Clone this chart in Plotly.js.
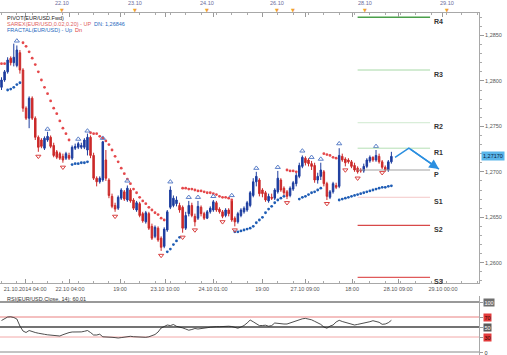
<!DOCTYPE html>
<html><head><meta charset="utf-8">
<script src="https://cdn.plot.ly/plotly-3.0.1.min.js"></script>
<style>html,body{margin:0;padding:0;background:#fff}#chart{width:507px;height:355px}</style>
</head><body><div id="chart"></div>
<script>
// ---- DATA ----
const opens = [1.2793,1.2801,1.2810,1.2825,1.2820,1.2817,1.2831,1.2812,1.2770,1.2759,
1.2781,1.2759,1.2738,1.2735,1.2726,1.2735,1.2738,1.2729,1.2722,1.2720,
1.2717,1.2715,1.2718,1.2715,1.2726,1.2727,1.2727,1.2727,1.2724,1.2738,
1.2718,1.2693,1.2689,1.2691,1.2713,1.2691,1.2673,1.2663,1.2660,1.2671,
1.2678,1.2669,1.2680,1.2669,1.2658,1.2665,1.2654,1.2645,1.2654,1.2640,
1.2629,1.2638,1.2627,1.2618,1.2636,1.2661,1.2663,1.2665,1.2663,1.2661,
1.2638,1.2654,1.2663,1.2651,1.2649,1.2661,1.2654,1.2649,1.2656,1.2658,
1.2666,1.2659,1.2656,1.2652,1.2658,1.2668,1.2649,1.2645,1.2652,1.2656,
1.2658,1.2663,1.2674,1.2689,1.2691,1.2680,1.2677,1.2668,1.2672,1.2671,
1.2678,1.2691,1.2682,1.2678,1.2674,1.2681,1.2687,1.2695,1.2706,1.2715,
1.2713,1.2709,1.2707,1.2691,1.2695,1.2700,1.2687,1.2672,1.2678,1.2685,
1.2684,1.2717,1.2714,1.2713,1.2711,1.2707,1.2704,1.2702,1.2701,1.2706,
1.2712,1.2716,1.2713,1.2717,1.2711,1.2705,1.2702,1.2711];
const highs = [1.2804,1.2812,1.2826,1.2827,1.2841,1.2839,1.2834,1.2814,1.2772,1.2783,
1.2783,1.2761,1.2740,1.2737,1.2739,1.2744,1.2740,1.2732,1.2724,1.2722,
1.2720,1.2722,1.2721,1.2729,1.2731,1.2733,1.2732,1.2737,1.2742,1.2740,
1.2721,1.2695,1.2695,1.2734,1.2724,1.2693,1.2676,1.2666,1.2674,1.2682,
1.2680,1.2685,1.2682,1.2671,1.2668,1.2667,1.2656,1.2657,1.2656,1.2643,
1.2641,1.2640,1.2629,1.2639,1.2658,1.2684,1.2674,1.2673,1.2666,1.2663,
1.2656,1.2668,1.2666,1.2654,1.2668,1.2663,1.2656,1.2658,1.2662,1.2669,
1.2668,1.2661,1.2658,1.2660,1.2660,1.2670,1.2651,1.2656,1.2660,1.2662,
1.2668,1.2679,1.2693,1.2700,1.2693,1.2682,1.2679,1.2676,1.2676,1.2682,
1.2701,1.2693,1.2684,1.2680,1.2684,1.2690,1.2699,1.2710,1.2718,1.2717,
1.2715,1.2712,1.2710,1.2699,1.2710,1.2702,1.2689,1.2680,1.2689,1.2688,
1.2726,1.2720,1.2716,1.2715,1.2713,1.2710,1.2706,1.2704,1.2709,1.2715,
1.2718,1.2717,1.2724,1.2720,1.2713,1.2707,1.2713,1.2722];
const lows = [1.2790,1.2799,1.2808,1.2817,1.2816,1.2815,1.2808,1.2766,1.2757,1.2748,
1.2757,1.2735,1.2722,1.2726,1.2724,1.2733,1.2726,1.2716,1.2714,1.2713,
1.2710,1.2713,1.2713,1.2713,1.2724,1.2725,1.2725,1.2725,1.2718,1.2715,
1.2691,1.2684,1.2687,1.2689,1.2690,1.2671,1.2660,1.2656,1.2658,1.2669,
1.2668,1.2667,1.2666,1.2658,1.2656,1.2650,1.2644,1.2643,1.2636,1.2625,
1.2627,1.2623,1.2613,1.2616,1.2634,1.2659,1.2661,1.2662,1.2655,1.2633,
1.2636,1.2651,1.2650,1.2640,1.2647,1.2651,1.2647,1.2648,1.2654,1.2656,
1.2656,1.2654,1.2649,1.2650,1.2651,1.2645,1.2640,1.2643,1.2650,1.2654,
1.2656,1.2661,1.2672,1.2684,1.2673,1.2672,1.2667,1.2666,1.2669,1.2669,
1.2676,1.2678,1.2674,1.2670,1.2672,1.2679,1.2684,1.2693,1.2704,1.2707,
1.2706,1.2702,1.2688,1.2687,1.2691,1.2684,1.2669,1.2670,1.2676,1.2681,
1.2682,1.2711,1.2706,1.2709,1.2704,1.2700,1.2698,1.2699,1.2699,1.2704,
1.2710,1.2711,1.2711,1.2709,1.2703,1.2700,1.2700,1.2709];
const closes = [1.2801,1.2810,1.2823,1.2820,1.2826,1.2834,1.2812,1.2770,1.2759,1.2781,
1.2759,1.2738,1.2727,1.2728,1.2737,1.2739,1.2728,1.2718,1.2716,1.2715,
1.2713,1.2720,1.2715,1.2727,1.2728,1.2731,1.2729,1.2735,1.2738,1.2718,
1.2693,1.2689,1.2693,1.2733,1.2693,1.2674,1.2662,1.2659,1.2672,1.2680,
1.2670,1.2682,1.2668,1.2660,1.2666,1.2652,1.2646,1.2655,1.2638,1.2627,
1.2639,1.2625,1.2617,1.2637,1.2656,1.2680,1.2671,1.2669,1.2658,1.2638,
1.2652,1.2663,1.2652,1.2645,1.2662,1.2654,1.2649,1.2656,1.2660,1.2667,
1.2658,1.2656,1.2651,1.2658,1.2654,1.2647,1.2645,1.2654,1.2658,1.2660,
1.2666,1.2677,1.2689,1.2695,1.2676,1.2676,1.2669,1.2673,1.2671,1.2680,
1.2693,1.2680,1.2677,1.2673,1.2682,1.2688,1.2696,1.2707,1.2716,1.2710,
1.2709,1.2706,1.2691,1.2695,1.2702,1.2687,1.2673,1.2678,1.2687,1.2683,
1.2718,1.2713,1.2710,1.2711,1.2706,1.2702,1.2700,1.2701,1.2706,1.2713,
1.2716,1.2713,1.2718,1.2711,1.2705,1.2702,1.2711,1.2717];

// Parabolic SAR (above price = red, below price = blue)
const sarDnX = [0,1, 7,8,9,10,11,12,13,14,15,16,17,18,19,20,21,22,
 29,30,31,32,33,34,35,36,37,38,39,40,41,42,43,44,45,46,47,48,49,50,51,52,53,
 59,60,61,62,63,64,65,66,67,68,69,70,71,72,73,74,75, 93,94,95,96, 105,106,107,108,109];
const sarDnY = [1.2819,1.2819, 1.2842,1.2838,1.2832,1.2825,1.2818,1.2810,1.2801,1.2793,1.2786,1.2778,1.2770,1.2764,1.2756,1.2748,1.2742,1.2735,
 1.2743,1.2742,1.2742,1.2739,1.2737,1.2734,1.2730,1.2724,1.2717,1.2711,1.2704,1.2698,1.2692,1.2687,1.2681,1.2677,1.2672,1.2668,1.2665,1.2661,1.2658,1.2655,1.2653,1.2649,1.2647,
 1.2682,1.2682,1.2681,1.2681,1.2680,1.2679,1.2679,1.2678,1.2677,1.2677,1.2676,1.2675,1.2673,1.2672,1.2672,1.2671,1.2669,
 1.2702,1.2701,1.2701,1.2700, 1.2720,1.2719,1.2718,1.2716,1.2715];
const sarUpX = [2,3,4,5,6, 23,24,25,26,27,28, 54,55,56,57,58,
 76,77,78,79,80,81,82,83,84,85,86,87,88,89,90,91,92, 97,98,99,100,101,102,103,104,
 110,111,112,113,114,115,116,117,118,119,120,121,122,123,124,125,126,127];
const sarUpY = [1.2790,1.2791,1.2793,1.2796,1.2798, 1.2708,1.2709,1.2709,1.2710,1.2710,1.2711,
 1.2612,1.2615,1.2620,1.2624,1.2628,
 1.2634,1.2634,1.2635,1.2636,1.2637,1.2638,1.2640,1.2644,1.2647,1.2650,1.2655,1.2659,1.2662,1.2666,1.2669,1.2671,1.2673,
 1.2670,1.2672,1.2673,1.2675,1.2677,1.2678,1.2680,1.2682,
 1.2669,1.2670,1.2671,1.2672,1.2673,1.2674,1.2675,1.2676,1.2677,1.2678,1.2679,1.2680,1.2681,1.2682,1.2683,1.2683,1.2684,1.26846];

// Fractals
const fracUpX = [5,15,25,28,33,41,55,61,64,69,75,83,90,98,101,104,110,122];
const fracUpY = [1.2844,1.2747,1.2736,1.2745,1.2737,1.2690,1.2689,1.2672,1.2672,1.2673,1.2674,1.2704,1.2705,1.2723,1.2716,1.2714,1.2731,1.2728];
const fracDnX = [12,20,37,52,59,63,72,76,93,106,112,116,124];
const fracDnY = [1.2717,1.2705,1.2651,1.2608,1.2628,1.2636,1.2645,1.2636,1.2666,1.2665,1.2702,1.2693,1.2699];

// Pivot levels
const pivotNames = ['R4','R3','R2','R1','P','S1','S2','S3'];
const pivotLevels = [1.2870,1.2812,1.2754,1.2726,1.2702,1.2672,1.2641,1.2584];
const pivotFrom = 116, pivotTo = 139.6;

// Forecast arrow
const fcX = [128.2,132.7,142.5];
const fcY = [1.2716,1.2726,1.2703];

// RSI(14)
const rsi = [63,67.4,70,70.4,69,66,52,42,39,43,
40.6,39,37.6,36,35.4,34.4,34,33.2,32.6,32,
34.6,37.2,38.8,40,39.6,39.6,40.2,41.4,43,39,
34,34,35.6,30.4,29.6,29.4,29.4,28.8,28,28.8,
29.6,31.2,31.4,30.6,30,29.4,29.4,29.4,30.4,32,
35,40,48,51,54,52.8,55,51.4,49,48.2,
46,43.6,45,47,46,46.4,48,48.6,49.6,50.6,
50.6,50.6,51.4,52.2,51.6,51,49.4,47.6,50,53,
58,64,60.4,57,52.8,53,53.6,51.6,52.8,58,
57.2,56,56,56,58,60.6,63,65.4,66.4,67.2,
66.4,64.4,61.4,58,55.2,50,47.6,51.8,54,60,
63.4,61,59.2,57.2,55.6,54,55.2,56.2,57.4,58.6,
60.6,62.6,61.4,59.4,55.4,56,58.6,63.4];
const rsiLevels = [100,70,50,30,0];
const rsiLevelText = ['100','70','50','30','0'];

// Axis labels
const bottomTickPos = [7.7,22.3,38.6,53.3,68.9,84.9,98.9,114.2,129.2,143.8];
const bottomTickText = ['21.10.2014 04:00','22.10 04:00','19:00','23.10 10:00','24.10 01:00','19:00','27.10 09:00','18:00','28.10 09:00','29.10 00:00'];
const topDayPos = [19.7,43.5,66.9,89.7,118.4,145.1];
const topDayText = ['22.10','23.10','24.10','26.10','28.10','29.10'];
const topMarkPos = [19.7,43.5,66.9,89.7,94.9,118.4,145.1];
const priceTicks = [1.2600,1.2650,1.2700,1.2750,1.2800,1.2850];

// ---- BUILD ----
const N = closes.length;
const xs = [];
for (let i = 0; i < N; i++) xs.push(i);
const FONT = 'Liberation Sans, Arial, sans-serif';

const traces = [];
traces.push({
  type:'candlestick', x:xs, open:opens, high:highs, low:lows, close:closes,
  xaxis:'x', yaxis:'y', whiskerwidth:0,
  increasing:{line:{color:'#1d3d9f', width:1}, fillcolor:'#1d3d9f'},
  decreasing:{line:{color:'#cc2a2a', width:1}, fillcolor:'#cc2a2a'},
  hoverinfo:'skip'
});
traces.push({type:'scatter', mode:'markers', x:sarDnX, y:sarDnY, xaxis:'x', yaxis:'y',
  marker:{color:'#e5484b', size:2.8}, hoverinfo:'skip'});
traces.push({type:'scatter', mode:'markers', x:sarUpX, y:sarUpY, xaxis:'x', yaxis:'y',
  marker:{color:'#1f5db5', size:2.8}, hoverinfo:'skip'});
traces.push({type:'scatter', mode:'markers', x:fracUpX, y:fracUpY, xaxis:'x', yaxis:'y',
  marker:{symbol:'triangle-up-open', color:'#5b7fc8', size:4.5, line:{width:1}}, hoverinfo:'skip'});
traces.push({type:'scatter', mode:'markers', x:fracDnX, y:fracDnY, xaxis:'x', yaxis:'y',
  marker:{symbol:'triangle-down-open', color:'#d84040', size:4.5, line:{width:1}}, hoverinfo:'skip'});

const pivotColors = ['#4ba04b','#a6d8a6','#cfe9cf','#b4dfb4','#a0a0a0','#f4c8c8','#d84848','#e05a5a'];
const pivotWidths = [1.5,1,1,1,1,1,1.3,1.3];
const annotations = [];
pivotLevels.forEach((lv, k) => {
  traces.push({type:'scatter', mode:'lines', x:[pivotFrom, pivotTo], y:[lv, lv], xaxis:'x', yaxis:'y',
    line:{color:pivotColors[k], width:pivotWidths[k]}, hoverinfo:'skip'});
  annotations.push({xref:'x', yref:'y', x:pivotTo + 0.6, y:lv, yshift:-4, xanchor:'left', yanchor:'middle',
    text:'<b>'+pivotNames[k]+'</b>', showarrow:false, font:{family:FONT, size:7, color:'#333'}});
});

traces.push({type:'scatter', mode:'lines', x:fcX, y:fcY, xaxis:'x', yaxis:'y',
  line:{color:'#2b8fe0', width:1.5}, hoverinfo:'skip'});
annotations.push({xref:'x', yref:'y', axref:'x', ayref:'y', x:fcX[2], y:fcY[2], ax:fcX[1], ay:fcY[1],
  showarrow:true, arrowhead:2, arrowsize:1.3, arrowwidth:1.5, arrowcolor:'#2b8fe0', text:''});

traces.push({type:'scatter', mode:'lines', x:xs, y:rsi, xaxis:'x2', yaxis:'y2',
  line:{color:'#222', width:0.8}, hoverinfo:'skip'});

const shapes = [];
const rsiLineColors = ['#777','#e98080','#444','#f2a8a8','#888'];
const rsiLineWidths = [1.5,1,1.5,1,1];
rsiLevels.forEach((lv,k) => {
  shapes.push({type:'line', xref:'x2 domain', yref:'y2', x0:0, x1:1, y0:lv, y1:lv,
    line:{color:rsiLineColors[k], width:rsiLineWidths[k]}, layer:'below'});
});
const rsiBg = ['#6e6e6e','#e23a3a','#5a5a5a','#e23a3a','rgba(0,0,0,0)'];
const rsiFg = ['#fff','#3a0000','#fff','#3a0000','#333'];
rsiLevels.forEach((lv,k) => {
  annotations.push({xref:'paper', yref:'y2', x:1, xshift:4, y:lv, xanchor:'left', yanchor:'middle',
    text:rsiLevelText[k], showarrow:false, bgcolor:rsiBg[k], borderpad:0.5,
    font:{family:FONT, size:5.5, color:rsiFg[k]}});
});

// current price box
annotations.push({xref:'paper', yref:'y', x:1, xshift:2, y:closes[N-1], xanchor:'left', yanchor:'middle',
  text:closes[N-1].toFixed(5).replace('.',','), showarrow:false, bgcolor:'#5ab6ea', borderpad:1,
  font:{family:FONT, size:5.5, color:'#0a1a3a'}});

// top date strip
topDayPos.forEach((p,k) => {
  annotations.push({xref:'x', yref:'paper', x:p, y:1.0285, text:topDayText[k], showarrow:false,
    xanchor:'center', yanchor:'middle', font:{family:FONT, size:5.5, color:'#6b6b9b'}});
});
topMarkPos.forEach((p) => {
  annotations.push({xref:'x', yref:'paper', x:p, y:1.0095, text:'▼', showarrow:false,
    xanchor:'center', yanchor:'middle', font:{family:'DejaVu Sans', size:5, color:'#f0a030'}});
});

// legends
const legY = [0.9854, 0.9678, 0.9503];
annotations.push({xref:'paper', yref:'paper', x:0.01, y:legY[0], xanchor:'left', yanchor:'middle', showarrow:false,
  text:'PIVOT(EUR/USD.Fwd)', font:{family:FONT, size:5.5, color:'#222'}});
annotations.push({xref:'paper', yref:'paper', x:0.01, y:legY[1], xanchor:'left', yanchor:'middle', showarrow:false,
  text:'<span style="color:#e06060">SAREX(EUR/USD,0.02,0.20) - UP</span>  <span style="color:#2a6ac0">DN: '+sarUpY[sarUpY.length-1].toFixed(5).replace('.',',')+'</span>',
  font:{family:FONT, size:5.5, color:'#222'}});
annotations.push({xref:'paper', yref:'paper', x:0.01, y:legY[2], xanchor:'left', yanchor:'middle', showarrow:false,
  text:'<span style="color:#2a6ac0">FRACTAL(EUR/USD) - Up</span>  <span style="color:#e04040">Dn</span>',
  font:{family:FONT, size:5.5, color:'#222'}});
annotations.push({xref:'paper', yref:'paper', x:0.01, y:0.1637, xanchor:'left', yanchor:'middle', showarrow:false,
  text:'RSI(EUR/USD.Close, 14): 60,01', font:{family:FONT, size:5.5, color:'#333'}});

const layout = {
  width:507, height:355,
  margin:{l:0, r:28, t:13, b:0, pad:0},
  paper_bgcolor:'#ffffff', plot_bgcolor:'#ffffff',
  separators:',.', showlegend:false, dragmode:false,
  xaxis:{domain:[0,1], anchor:'y', range:[-0.49,155.54], rangeslider:{visible:false},
    showgrid:false, zeroline:false, showline:true, linecolor:'#a8a8a8', linewidth:1, mirror:'allticks',
    tickmode:'array', tickvals:bottomTickPos, ticktext:bottomTickText, ticks:'inside', ticklen:4, tickcolor:'#999',
    minor:{dtick:5, ticks:'inside', ticklen:2, tickcolor:'#aaa'},
    tickfont:{family:FONT, size:5.5, color:'#555'}},
  yaxis:{domain:[0.2105,1], anchor:'x', range:[1.25777,1.28747], side:'right',
    showgrid:false, zeroline:false, showline:true, linecolor:'#a8a8a8', linewidth:1, mirror:true,
    tickmode:'array', tickvals:priceTicks, tickformat:'.4f', ticks:'outside', ticklen:4, tickcolor:'#999',
    minor:{dtick:0.001, ticks:'outside', ticklen:2, tickcolor:'#aaa'},
    tickfont:{family:FONT, size:5.5, color:'#555'}},
  xaxis2:{domain:[0,1], anchor:'y2', matches:'x', showticklabels:false, showgrid:false, zeroline:false,
    showline:false, ticks:'', rangeslider:{visible:false}},
  yaxis2:{domain:[0,0.1725], anchor:'x2', range:[-6,112], side:'right', showticklabels:false,
    showgrid:false, zeroline:false, showline:true, linecolor:'#a8a8a8', ticks:'outside', ticklen:3,
    tickvals:rsiLevels, tickcolor:'#999'},
  shapes:shapes, annotations:annotations
};
Plotly.newPlot('chart', traces, layout, {staticPlot:true, displayModeBar:false});
</script></body></html>
